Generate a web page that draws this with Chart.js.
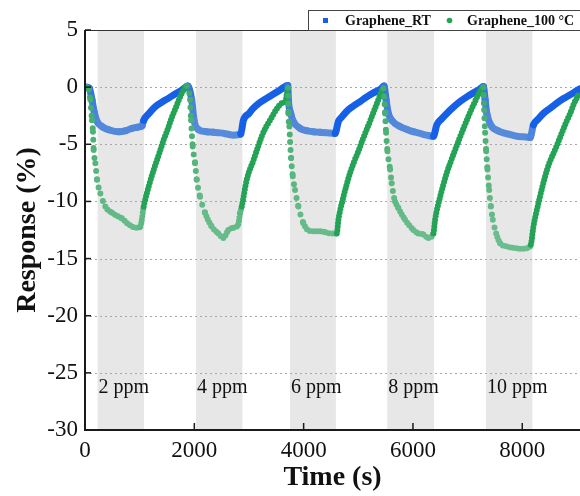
<!DOCTYPE html>
<html>
<head>
<meta charset="utf-8">
<script src="https://cdn.jsdelivr.net/npm/chart.js@4.4.1/dist/chart.umd.min.js"></script>
<style>
  html, body { margin: 0; padding: 0; background: #fff; }
</style>
</head>
<body>
<canvas id="responseChart" width="580" height="496"></canvas>
<script>
// Graphene gas response, RT vs 100 °C, five exposure cycles

const rtTime = [
  30, 80, 128, 170, 220, 311, 450, 616, 750, 860, 960, 1043, 1074, 1170, 1287, 1410, 1531, 1650, 1775, 1880,
  1952, 1995, 2074, 2227, 2350, 2471, 2600, 2715, 2850, 2898, 3000, 3081, 3200, 3326, 3450, 3569, 3710,
  3721, 3764, 3812, 3935, 4050, 4178, 4300, 4423, 4575, 4636, 4700, 4789, 4910, 5033, 5155, 5276, 5400, 5470,
  5508, 5550, 5612, 5764, 5890, 6008, 6130, 6253, 6374, 6436, 6520, 6619, 6740, 6862, 6985, 7106, 7200, 7289,
  7320, 7351, 7443, 7550, 7655, 7780, 7900, 8020, 8144, 8204, 8290, 8387, 8510, 8632, 8755, 8876, 9000, 9050
];
const rtResp = [
  0.0, -0.1, -1.1, -2.2, -3.0, -3.45, -3.75, -3.9, -3.8, -3.6, -3.5, -3.4, -2.9, -2.3, -1.7, -1.3, -0.96, -0.6, -0.24, 0.1,
  -1.1, -2.9, -3.7, -3.9, -3.95, -4.0, -4.1, -4.2, -4.1, -2.9, -2.3, -1.84, -1.35, -0.96, -0.6, -0.24, 0.15,
  -1.1, -2.3, -3.0, -3.6, -3.8, -3.9, -3.95, -4.0, -4.05, -3.0, -2.6, -2.1, -1.65, -1.26, -0.85, -0.5, -0.2, 0.1,
  -1.1, -2.3, -2.9, -3.45, -3.7, -3.9, -4.05, -4.2, -4.3, -3.3, -2.8, -2.3, -1.75, -1.26, -0.85, -0.5, -0.25, 0.05,
  -1.1, -2.3, -3.45, -3.8, -4.0, -4.15, -4.3, -4.35, -4.4, -3.3, -2.8, -2.3, -1.85, -1.4, -1.0, -0.67, -0.3, -0.15
];

const hotTime = [
  30, 70, 97, 128, 146, 159, 189, 220, 281, 372, 494, 600, 677, 770, 860, 952, 1013, 1074, 1165, 1287, 1365, 1440, 1520, 1592, 1670, 1745, 1867,
  1922, 1940, 1971, 2013, 2044, 2105, 2196, 2318, 2440, 2531, 2623, 2720, 2806, 2837, 2868, 2959, 3081, 3160, 3234, 3310, 3386, 3508, 3600, 3670, 3715,
  3721, 3739, 3752, 3770, 3801, 3843, 3904, 3995, 4118, 4210, 4300, 4400, 4484, 4606, 4636, 4728, 4850, 4925, 5002, 5080, 5155, 5230, 5307, 5380, 5459,
  5490, 5508, 5533, 5582, 5612, 5655, 5734, 5856, 6008, 6100, 6191, 6283, 6374, 6405, 6497, 6619, 6700, 6771, 6850, 6924, 7010, 7106, 7180, 7259, 7289,
  7302, 7320, 7339, 7363, 7394, 7425, 7461, 7522, 7595, 7717, 7810, 7900, 8000, 8083, 8156, 8204, 8296, 8418, 8490, 8570, 8650, 8723, 8800, 8876, 8950, 9029
];
const hotResp = [
  0.0, -0.2, -1.1, -2.9, -3.9, -5.5, -6.65, -8.1, -9.3, -10.45, -11.0, -11.3, -11.5, -11.9, -12.2, -12.3, -12.2, -10.45, -8.7, -6.8, -5.7, -4.6, -3.6, -2.6, -1.7, -0.8, 0.1,
  -1.1, -2.9, -5.2, -6.65, -8.1, -9.6, -11.0, -12.2, -12.8, -13.2, -12.5, -12.3, -12.0, -11.0, -10.45, -8.1, -6.4, -5.3, -4.3, -3.5, -2.9, -1.9, -1.4, -1.2, -0.05,
  -2.3, -3.45, -4.8, -6.2, -7.8, -9.0, -10.45, -11.9, -12.6, -12.6, -12.6, -12.7, -12.8, -12.8, -11.6, -9.6, -7.5, -6.5, -5.6, -4.6, -3.7, -2.8, -1.84, -0.95, -0.1,
  -2.3, -4.0, -5.6, -7.2, -8.4, -9.7, -10.6, -11.6, -12.5, -12.8, -12.9, -13.2, -12.8, -11.6, -9.6, -7.5, -6.4, -5.5, -4.5, -3.6, -2.6, -1.55, -0.8, -0.1, 0.0,
  -2.0, -4.0, -5.6, -7.2, -9.0, -10.45, -11.6, -12.8, -13.65, -13.95, -14.05, -14.1, -14.15, -14.1, -13.8, -12.2, -10.15, -7.8, -6.7, -5.8, -4.9, -4.0, -3.1, -2.3, -1.4, -0.67
];

const bandStart = [230, 2030, 3750, 5530, 7335];
const bandEnd = [1080, 2880, 4590, 6385, 8185];
const ppmLabels = ['2 ppm', '4 ppm', '6 ppm', '8 ppm', '10 ppm'];

const xTicks = [0, 2000, 4000, 6000, 8000];
const yTicks = [-30, -25, -20, -15, -10, -5, 0, 5];

const serif = "'Liberation Serif', 'Times New Roman', serif";

const blueDark = [22, 96, 232], blueLight = [86, 138, 218];
const greenDark = [36, 163, 86], greenLight = [108, 189, 142];

function rgb(c) { return 'rgb(' + c.map(Math.round).join(',') + ')'; }
function mix(a, b, f) { return a.map((v, i) => v + (b[i] - v) * f); }
function inBand(t) {
  return bandStart.some((s, i) => t >= s && t < bandEnd[i] - 30);
}

// lighter colour while the response drops / sits at the bottom, darker on recovery
function segColor(T, R, dark, light, depth) {
  return c => {
    const i = c.p0DataIndex, j = c.p1DataIndex;
    if (R[j] > R[i] && !inBand(T[i])) return rgb(dark);
    const f = Math.min(1, Math.max(0, -R[j] / depth));
    return rgb(mix(dark, light, 0.3 + 0.7 * f));
  };
}

const decor = {
  id: 'decor',
  beforeDraw(chart) {
    const {ctx, chartArea: a, scales: {x, y}} = chart;
    ctx.save();
    ctx.fillStyle = '#e7e7e7';
    bandStart.forEach((s, i) => {
      const l = x.getPixelForValue(s), r = x.getPixelForValue(bandEnd[i]);
      ctx.fillRect(l, a.top, r - l, a.bottom - a.top);
    });
    // dotted grid
    ctx.strokeStyle = '#a8a8a8';
    ctx.lineWidth = 1;
    ctx.setLineDash([2, 3]);
    yTicks.slice(1, -1).forEach(v => {
      const py = Math.round(y.getPixelForValue(v)) + 0.5;
      ctx.beginPath();
      ctx.moveTo(a.left, py);
      ctx.lineTo(a.right, py);
      ctx.stroke();
    });
    ctx.restore();
  },
  afterDraw(chart) {
    const {ctx, chartArea: a, scales: {x, y}} = chart;
    ctx.save();
    // frame
    ctx.strokeStyle = '#333';
    ctx.lineWidth = 1;
    ctx.beginPath();
    ctx.moveTo(a.left, a.top + 0.5);
    ctx.lineTo(a.right, a.top + 0.5);
    ctx.stroke();
    ctx.strokeStyle = '#1a1a1a';
    ctx.lineWidth = 2;
    ctx.beginPath();
    ctx.moveTo(a.left, a.top);
    ctx.lineTo(a.left, a.bottom);
    ctx.lineTo(a.right, a.bottom);
    ctx.stroke();
    // inward ticks
    ctx.lineWidth = 1.5;
    yTicks.forEach(v => {
      const py = y.getPixelForValue(v);
      ctx.beginPath();
      ctx.moveTo(a.left, py);
      ctx.lineTo(a.left + 6, py);
      ctx.stroke();
    });
    xTicks.slice(1).forEach(v => {
      const px = x.getPixelForValue(v);
      ctx.beginPath();
      ctx.moveTo(px, a.bottom);
      ctx.lineTo(px, a.bottom - 7);
      ctx.stroke();
    });
    // concentration labels
    ctx.fillStyle = '#111';
    ctx.font = '20px ' + serif;
    ctx.textBaseline = 'middle';
    ppmLabels.forEach((t, i) => {
      ctx.fillText(t, x.getPixelForValue(bandStart[i]) + 1, y.getPixelForValue(-26.3));
    });
    // legend box
    ctx.fillStyle = '#fff';
    ctx.fillRect(308, 10, 280, 20);
    ctx.strokeStyle = '#444';
    ctx.lineWidth = 1;
    ctx.strokeRect(308.5, 10.5, 280, 20);
    ctx.fillStyle = rgb(blueDark);
    ctx.fillRect(323, 18, 5, 5);
    ctx.fillStyle = rgb(greenDark);
    ctx.beginPath();
    ctx.arc(449.5, 20.5, 2.8, 0, Math.PI * 2);
    ctx.fill();
    ctx.fillStyle = '#111';
    ctx.font = 'bold 14px ' + serif;
    ctx.fillText('Graphene_RT', 345, 21);
    ctx.fillText('Graphene_100 °C', 467, 21);
    ctx.restore();
  }
};

new Chart(document.getElementById('responseChart'), {
  type: 'line',
  data: {
    datasets: [{
      label: 'Graphene_RT',
      data: rtTime.map((t, i) => ({x: t, y: rtResp[i]})),
      borderColor: rgb(blueDark),
      borderWidth: 7,
      borderCapStyle: 'round',
      borderJoinStyle: 'round',
      pointRadius: 0,
      cubicInterpolationMode: 'monotone',
      order: 2,
      segment: { borderColor: segColor(rtTime, rtResp, blueDark, blueLight, 4) }
    }, {
      label: 'Graphene_100 °C',
      data: hotTime.map((t, i) => ({x: t, y: hotResp[i]})),
      borderColor: rgb(greenDark),
      borderWidth: 6,
      borderCapStyle: 'round',
      borderJoinStyle: 'round',
      pointRadius: 0,
      cubicInterpolationMode: 'monotone',
      order: 1,
      segment: {
        borderColor: segColor(hotTime, hotResp, greenDark, greenLight, 14),
        borderDash: c => {
          const dx = Math.abs(c.p1.x - c.p0.x), dy = c.p1.y - c.p0.y;
          return dy > 2.5 * dx ? [0, 8] : [0, 3.5];
        }
      }
    }]
  },
  options: {
    responsive: false,
    animation: false,
    layout: { padding: { top: 30, right: 0, left: 0, bottom: 0 } },
    plugins: {
      legend: { display: false },
      tooltip: { enabled: false }
    },
    scales: {
      x: {
        type: 'linear',
        min: 0,
        max: 9056,
        afterBuildTicks: s => { s.ticks = xTicks.map(v => ({value: v})); },
        afterFit: s => { s.height = 66; },
        grid: { display: false, drawTicks: false },
        border: { display: false },
        ticks: {
          padding: 7,
          color: '#111',
          font: { family: serif, size: 23 },
          maxRotation: 0,
          callback: v => String(v)
        },
        title: {
          display: true,
          text: 'Time (s)',
          color: '#111',
          font: { family: serif, size: 28, weight: 'bold' },
          padding: { top: 0, bottom: 1 }
        }
      },
      y: {
        min: -30,
        max: 5,
        afterBuildTicks: s => { s.ticks = yTicks.map(v => ({value: v})); },
        afterFit: s => { s.width = 85; },
        grid: { display: false, drawTicks: false },
        border: { display: false },
        ticks: {
          padding: 7,
          color: '#111',
          font: { family: serif, size: 23 }
        },
        title: {
          display: true,
          text: 'Response (%)',
          color: '#111',
          font: { family: serif, size: 28, weight: 'bold' },
          padding: { top: 11, bottom: 0 }
        }
      }
    }
  },
  plugins: [decor]
});
</script>
</body>
</html>
